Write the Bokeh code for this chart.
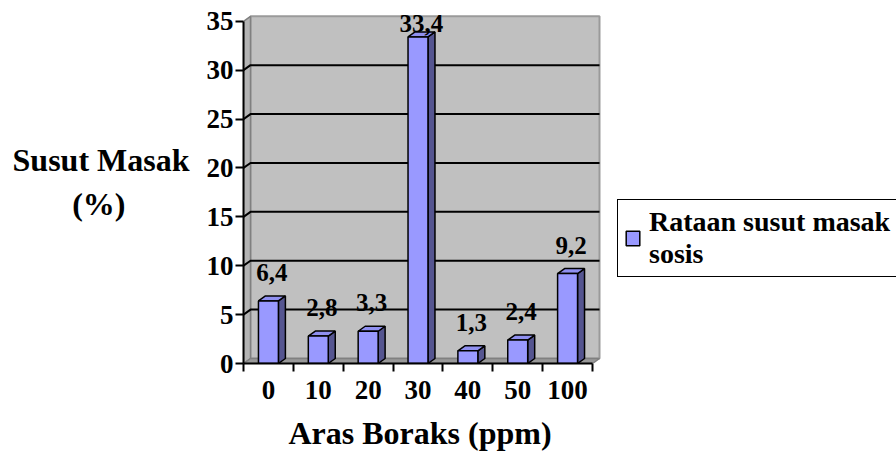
from bokeh.plotting import figure
from bokeh.models import Range1d, FixedTicker, Legend, LegendItem, Title
from bokeh.core.properties import value
from bokeh.embed import file_html
from bokeh.resources import INLINE

# ---- data ----
categories = ["0", "10", "20", "30", "40", "50", "100"]
values = [6.4, 2.8, 3.3, 33.4, 1.3, 2.4, 9.2]
value_labels = ["6,4", "2,8", "3,3", "33,4", "1,3", "2,4", "9,2"]
y_ticks = [0, 5, 10, 15, 20, 25, 30, 35]
series_name = "Rataan susut masak\nsosis"
x_title = "Aras Boraks (ppm)"
y_title = "Susut Masak\n(%)" + "\u00a0" * 8

FONT = "Liberation Serif"
W, H = 896, 461
LEFT, BOTTOM = 243, 98
PX_X = 349 / 7.0
PX_Y = 342.2 / 35.0
frame_w = W - LEFT
frame_h = H - BOTTOM
x_end = frame_w / PX_X
y_end = frame_h / PX_Y

n = len(categories)
ymax = y_ticks[-1]
dx = 7 / PX_X   # depth offset
dy = 5 / PX_Y
half = 0.2

p = figure(width=W, height=H, x_range=Range1d(0, x_end), y_range=Range1d(0, y_end),
           output_backend="svg", toolbar_location=None,
           min_border_left=LEFT, min_border_right=0, min_border_top=0,
           min_border_bottom=BOTTOM)
p.outline_line_color = None
p.background_fill_color = "white"
p.border_fill_color = "white"
p.xgrid.visible = False
p.ygrid.visible = False

# walls
p.patch([dx, n + dx, n + dx, dx], [dy, dy, ymax + dy, ymax + dy],
        fill_color="#C0C0C0", line_color="#9A9A9A", line_width=2)
p.patch([0, dx, dx, 0], [0, dy, ymax + dy, ymax], fill_color="#B4B4B4",
        line_color="#808080", line_width=1.5)
p.patch([0, n, n + dx, dx], [0, 0, dy, dy], fill_color="#999999",
        line_color="#808080", line_width=1.5)

# gridlines on side and back walls
gl = [t for t in y_ticks if 0 < t < ymax]
p.multi_line([[0, dx, n + dx] for _ in gl], [[t, t + dy, t + dy] for t in gl],
             line_color="black", line_width=2)

# bars
centers = [i + 0.5 for i in range(n)]
side_x = [[c + half, c + half + dx, c + half + dx, c + half] for c in centers]
side_y = [[0, dy, v + dy, v] for v in values]
top_x = [[c - half, c - half + dx, c + half + dx, c + half] for c in centers]
top_y = [[v, v + dy, v + dy, v] for v in values]
p.patches(side_x, side_y, fill_color="#555590", line_color="black", line_width=1.5)
p.patches(top_x, top_y, fill_color="#9090F0", line_color="black", line_width=1.5)
bars = p.vbar(x=centers, top=values, bottom=0, width=2 * half,
              fill_color="#9999FF", line_color="black", line_width=1.5)

# value labels
lab_y = [min(v + 2.9, 34.8) for v in values]
p.text(x=[c + 0.07 for c in centers], y=lab_y, text=value_labels,
       text_font=value(FONT), text_font_style="bold", text_font_size="25px",
       text_align="center", text_baseline="middle", text_color="black")

# axes
yax = p.yaxis[0]
yax.ticker = FixedTicker(ticks=y_ticks)
yax.bounds = (0, ymax)
yax.axis_line_width = 2
yax.axis_line_color = "black"
yax.major_tick_line_width = 2
yax.major_tick_line_color = "black"
yax.major_tick_out = 8
yax.major_tick_in = 0
yax.minor_tick_line_color = None
yax.major_label_standoff = 2
yax.major_label_text_font = FONT
yax.major_label_text_font_style = "bold"
yax.major_label_text_font_size = "27px"
yax.major_label_text_color = "black"
yax.axis_label = y_title
yax.axis_label_text_font = FONT
yax.axis_label_text_font_style = "bold"
yax.axis_label_text_font_size = "32px"
yax.axis_label_text_color = "black"
yax.axis_label_standoff = 14
try:
    yax.axis_label_orientation = "horizontal"
except Exception:
    pass

xax = p.xaxis[0]
xax.ticker = FixedTicker(ticks=centers, minor_ticks=list(range(n + 1)))
xax.bounds = (0, n)
xax.major_label_overrides = {c: lbl for c, lbl in zip(centers, categories)}
xax.axis_line_width = 2
xax.axis_line_color = "black"
xax.major_tick_line_color = None
xax.major_tick_out = 8
xax.major_tick_in = 0
xax.minor_tick_line_width = 2
xax.minor_tick_line_color = "black"
xax.minor_tick_out = 8
xax.minor_tick_in = 0
xax.major_label_standoff = 9
xax.major_label_text_font = FONT
xax.major_label_text_font_style = "bold"
xax.major_label_text_font_size = "27px"
xax.major_label_text_color = "black"

# x title, placed under the category axis
xt = Title(text=x_title, align="left", offset=288 - LEFT, standoff=22,
           vertical_align="bottom",
           text_font=FONT, text_font_style="bold", text_font_size="32px",
           text_color="black")
p.add_layout(xt, "below")

# legend
leg = Legend(items=[LegendItem(label=series_name, renderers=[bars])],
             location=(617 - LEFT, H - BOTTOM - 277))
leg.label_text_font = FONT
leg.label_text_font_style = "bold"
leg.label_text_font_size = "28px"
leg.label_text_color = "black"
leg.label_width = 240
leg.glyph_width = 17
leg.glyph_height = 18
leg.label_standoff = 8
leg.padding = 6
leg.margin = 0
leg.border_line_color = "black"
leg.border_line_alpha = 1
leg.border_line_width = 1.5
leg.background_fill_color = "white"
leg.background_fill_alpha = 1
p.add_layout(leg)

open("out.html", "w").write(file_html(p, INLINE))
